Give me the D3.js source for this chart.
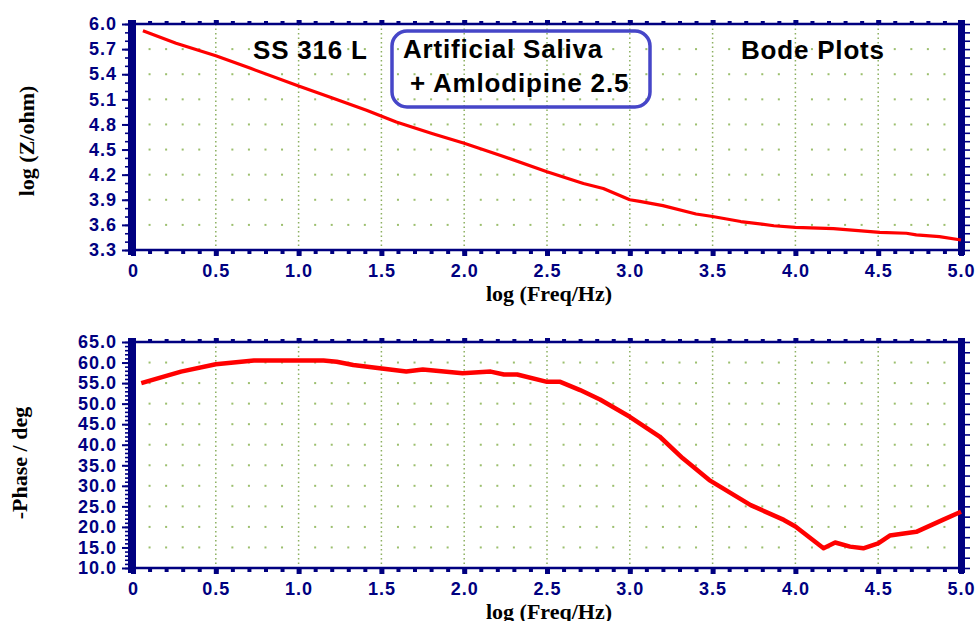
<!DOCTYPE html>
<html>
<head>
<meta charset="utf-8">
<script src="https://cdn.jsdelivr.net/npm/d3@7"></script>
<style>
  body { margin: 0; background: #fff; }
  svg { display: block; }
  .tick text { font-family: "Liberation Sans", Arial, sans-serif; font-weight: bold; font-size: 18px; fill: #000080; letter-spacing: 1px; }
  .title { font-family: "Liberation Serif", "Times New Roman", serif; font-weight: bold; font-size: 22px; fill: #000; }
  .note { font-family: "Liberation Sans", Arial, sans-serif; font-weight: bold; font-size: 26px; fill: #000; letter-spacing: 0.8px; }
</style>
</head>
<body>
<div class="chart"></div>
<script>
// log frequency values
var zFreq = [0.06, 0.26, 0.5, 0.71, 1.0, 1.2, 1.41, 1.59, 1.81, 2.0, 2.22, 2.5, 2.72, 2.84,
  3.0, 3.06, 3.2, 3.4, 3.5, 3.67, 3.87, 4.0, 4.23, 4.51, 4.67, 4.73, 4.87, 5.0];
var logZ = [5.92, 5.77, 5.62, 5.47, 5.26, 5.12, 4.97, 4.83, 4.69, 4.575, 4.43, 4.235, 4.095, 4.035,
  3.90, 3.88, 3.83, 3.73, 3.70, 3.64, 3.59, 3.57, 3.555, 3.51, 3.50, 3.48, 3.46, 3.42];

// phase curve
var phFreq = [0.05, 0.29, 0.5, 0.73, 1.0, 1.15, 1.23, 1.33, 1.49, 1.65, 1.75, 1.99, 2.16, 2.24, 2.32,
  2.5, 2.58, 2.7, 2.82, 3.0, 3.18, 3.32, 3.48, 3.73, 3.93, 4.0, 4.17, 4.24, 4.33, 4.41, 4.5, 4.57,
  4.73, 4.89, 5.0];
var phase = [55.0, 57.8, 59.6, 60.5, 60.5, 60.5, 60.2, 59.4, 58.6, 57.8, 58.3, 57.4, 57.8, 57.1, 57.1,
  55.3, 55.3, 53.3, 51.0, 46.8, 42.0, 36.7, 31.4, 25.3, 21.7, 20.1, 14.8, 16.2, 15.2, 14.8, 16.0, 17.9,
  18.8, 21.7, 23.7];

// tick values
var xTicks = [0, 0.5, 1.0, 1.5, 2.0, 2.5, 3.0, 3.5, 4.0, 4.5, 5.0];
var zTicks = [3.3, 3.6, 3.9, 4.2, 4.5, 4.8, 5.1, 5.4, 5.7, 6.0];
var phTicks = [10, 15, 20, 25, 30, 35, 40, 45, 50, 55, 60, 65];

var navy = "#000080";
var svg = d3.select(".chart").append("svg")
  .attr("width", 975)
  .attr("height", 621);

var x = d3.scaleLinear().domain([0, 5]).range([133, 961]);

function drawPanel(cfg) {
  var y = cfg.y;
  var x0 = x.range()[0], x1 = x.range()[1];
  var yTop = y.range()[1], yBot = y.range()[0];
  var g = svg.append("g");

  // grid: dots at every 0.1 along the major y levels
  var xMinor = d3.range(1, 50).map(d => d / 10).filter(d => Math.round(d * 10) % 5 !== 0);
  cfg.ticks.slice(1, -1).forEach(function(v) {
    g.selectAll(null)
      .data(xMinor)
      .enter()
      .append("rect")
      .attr("x", d => x(d) - 1)
      .attr("y", y(v) - 1)
      .attr("width", 2)
      .attr("height", 2)
      .attr("fill", "#9cbf6e");
  });
  // dotted vertical lines at the major x ticks
  g.selectAll(null)
    .data(xTicks.slice(1, -1))
    .enter()
    .append("line")
    .attr("x1", d => x(d)).attr("x2", d => x(d))
    .attr("y1", yTop).attr("y2", yBot)
    .attr("stroke", "#8cb060")
    .attr("stroke-width", 1.5)
    .attr("stroke-dasharray", "1.5,3");

  // frame: top and bottom lines
  g.append("line").attr("x1", x0).attr("x2", x1).attr("y1", yTop).attr("y2", yTop)
    .attr("stroke", navy).attr("stroke-width", 2.5);
  g.append("line").attr("x1", x0).attr("x2", x1).attr("y1", yBot).attr("y2", yBot)
    .attr("stroke", navy).attr("stroke-width", 2.5);

  // bottom axis ticks
  var xMinorAll = d3.range(0, 51).map(d => d / 10);
  g.append("g")
    .attr("transform", `translate(0, ${yBot})`)
    .call(d3.axisBottom(x).tickValues(xMinorAll).tickSize(4).tickFormat(""))
    .call(a => a.select(".domain").remove())
    .call(a => a.selectAll("line").attr("stroke", navy).attr("stroke-width", 4));
  g.append("g")
    .attr("transform", `translate(0, ${yBot})`)
    .call(d3.axisBottom(x).tickValues(xTicks).tickSize(6).tickPadding(8)
      .tickFormat(d => d === 0 ? "0" : d3.format(".1f")(d)))
    .call(a => a.select(".domain").remove())
    .call(a => a.selectAll("line").attr("stroke", navy).attr("stroke-width", 5));

  // top axis ticks
  g.append("g")
    .attr("transform", `translate(0, ${yTop})`)
    .call(d3.axisTop(x).tickValues(xMinorAll).tickSize(3).tickFormat(""))
    .call(a => a.select(".domain").remove())
    .call(a => a.selectAll("line").attr("stroke", navy).attr("stroke-width", 4));
  g.append("g")
    .attr("transform", `translate(0, ${yTop})`)
    .call(d3.axisTop(x).tickValues(xTicks).tickSize(4).tickFormat(""))
    .call(a => a.select(".domain").remove())
    .call(a => a.selectAll("line").attr("stroke", navy).attr("stroke-width", 5));

  // left axis
  g.append("g")
    .attr("transform", `translate(${x0 - 4}, 0)`)
    .call(d3.axisLeft(y).tickValues(cfg.leftMinor).tickSize(4).tickFormat(""))
    .call(a => a.select(".domain").remove())
    .call(a => a.selectAll("line").attr("stroke", navy).attr("stroke-width", 1.6));
  g.append("g")
    .attr("transform", `translate(${x0 - 4}, 0)`)
    .call(d3.axisLeft(y).tickValues(cfg.ticks).tickSize(7).tickPadding(5).tickFormat(cfg.fmt))
    .call(a => a.select(".domain").remove())
    .call(a => a.selectAll("line").attr("stroke", navy).attr("stroke-width", 2));
  g.append("rect")
    .attr("x", x0 - 5).attr("y", yTop - 4)
    .attr("width", 8).attr("height", yBot - yTop + 9)
    .attr("fill", navy);

  // right axis
  g.append("g")
    .attr("transform", `translate(${x1 + 4}, 0)`)
    .call(d3.axisRight(y).tickValues(cfg.rightMinor).tickSize(5).tickFormat(""))
    .call(a => a.select(".domain").remove())
    .call(a => a.selectAll("line").attr("stroke", navy).attr("stroke-width", 1.6));
  g.append("rect")
    .attr("x", x1 - 3).attr("y", yTop - 4)
    .attr("width", 7).attr("height", yBot - yTop + 9)
    .attr("fill", navy);

  // data line
  var line = d3.line()
    .x(d => x(d[0]))
    .y(d => y(d[1]));
  g.append("path")
    .datum(d3.zip(cfg.xs, cfg.ys))
    .attr("d", line)
    .attr("fill", "none")
    .attr("stroke", "#ff0000")
    .attr("stroke-width", cfg.lw)
    .attr("stroke-linejoin", "round");

  // axis titles
  g.append("text")
    .attr("class", "title")
    .attr("x", (x0 + x1) / 2 + 2)
    .attr("y", yBot + 51)
    .attr("text-anchor", "middle")
    .text("log (Freq/Hz)");
  g.append("text")
    .attr("class", "title")
    .attr("transform", `translate(${cfg.titleX}, ${(yTop + yBot) / 2 + cfg.titleDy}) rotate(-90)`)
    .attr("text-anchor", "middle")
    .text(cfg.title);

  return g;
}

var yZ = d3.scaleLinear().domain([3.3, 6.0]).range([250, 24]);
var yP = d3.scaleLinear().domain([10, 65]).range([568, 342]);

var topPanel = drawPanel({
  y: yZ, ticks: zTicks, fmt: d3.format(".1f"),
  leftMinor: d3.range(33, 61).map(d => d / 10),
  rightMinor: d3.range(33, 61).map(d => d / 10),
  xs: zFreq, ys: logZ, lw: 3.2,
  title: "log (Z/ohm)", titleX: 34, titleDy: 4
});

drawPanel({
  y: yP, ticks: phTicks, fmt: d3.format(".1f"),
  leftMinor: d3.range(10, 66),
  rightMinor: d3.range(10, 66, 2.5),
  xs: phFreq, ys: phase, lw: 4.5,
  title: "-Phase / deg", titleX: 27, titleDy: 8
});

// annotations in the upper panel
topPanel.append("text").attr("class", "note").attr("x", 253).attr("y", 59).text("SS 316 L");
topPanel.append("rect")
  .attr("x", 392).attr("y", 31)
  .attr("width", 258).attr("height", 76)
  .attr("rx", 15)
  .attr("fill", "none")
  .attr("stroke", "#4646c8")
  .attr("stroke-width", 3.5);
topPanel.append("text").attr("class", "note").attr("x", 403).attr("y", 58).text("Artificial Saliva");
topPanel.append("text").attr("class", "note").attr("x", 410).attr("y", 92).text("+ Amlodipine 2.5");
topPanel.append("text").attr("class", "note").attr("x", 741).attr("y", 59).text("Bode Plots");
</script>
</body>
</html>
